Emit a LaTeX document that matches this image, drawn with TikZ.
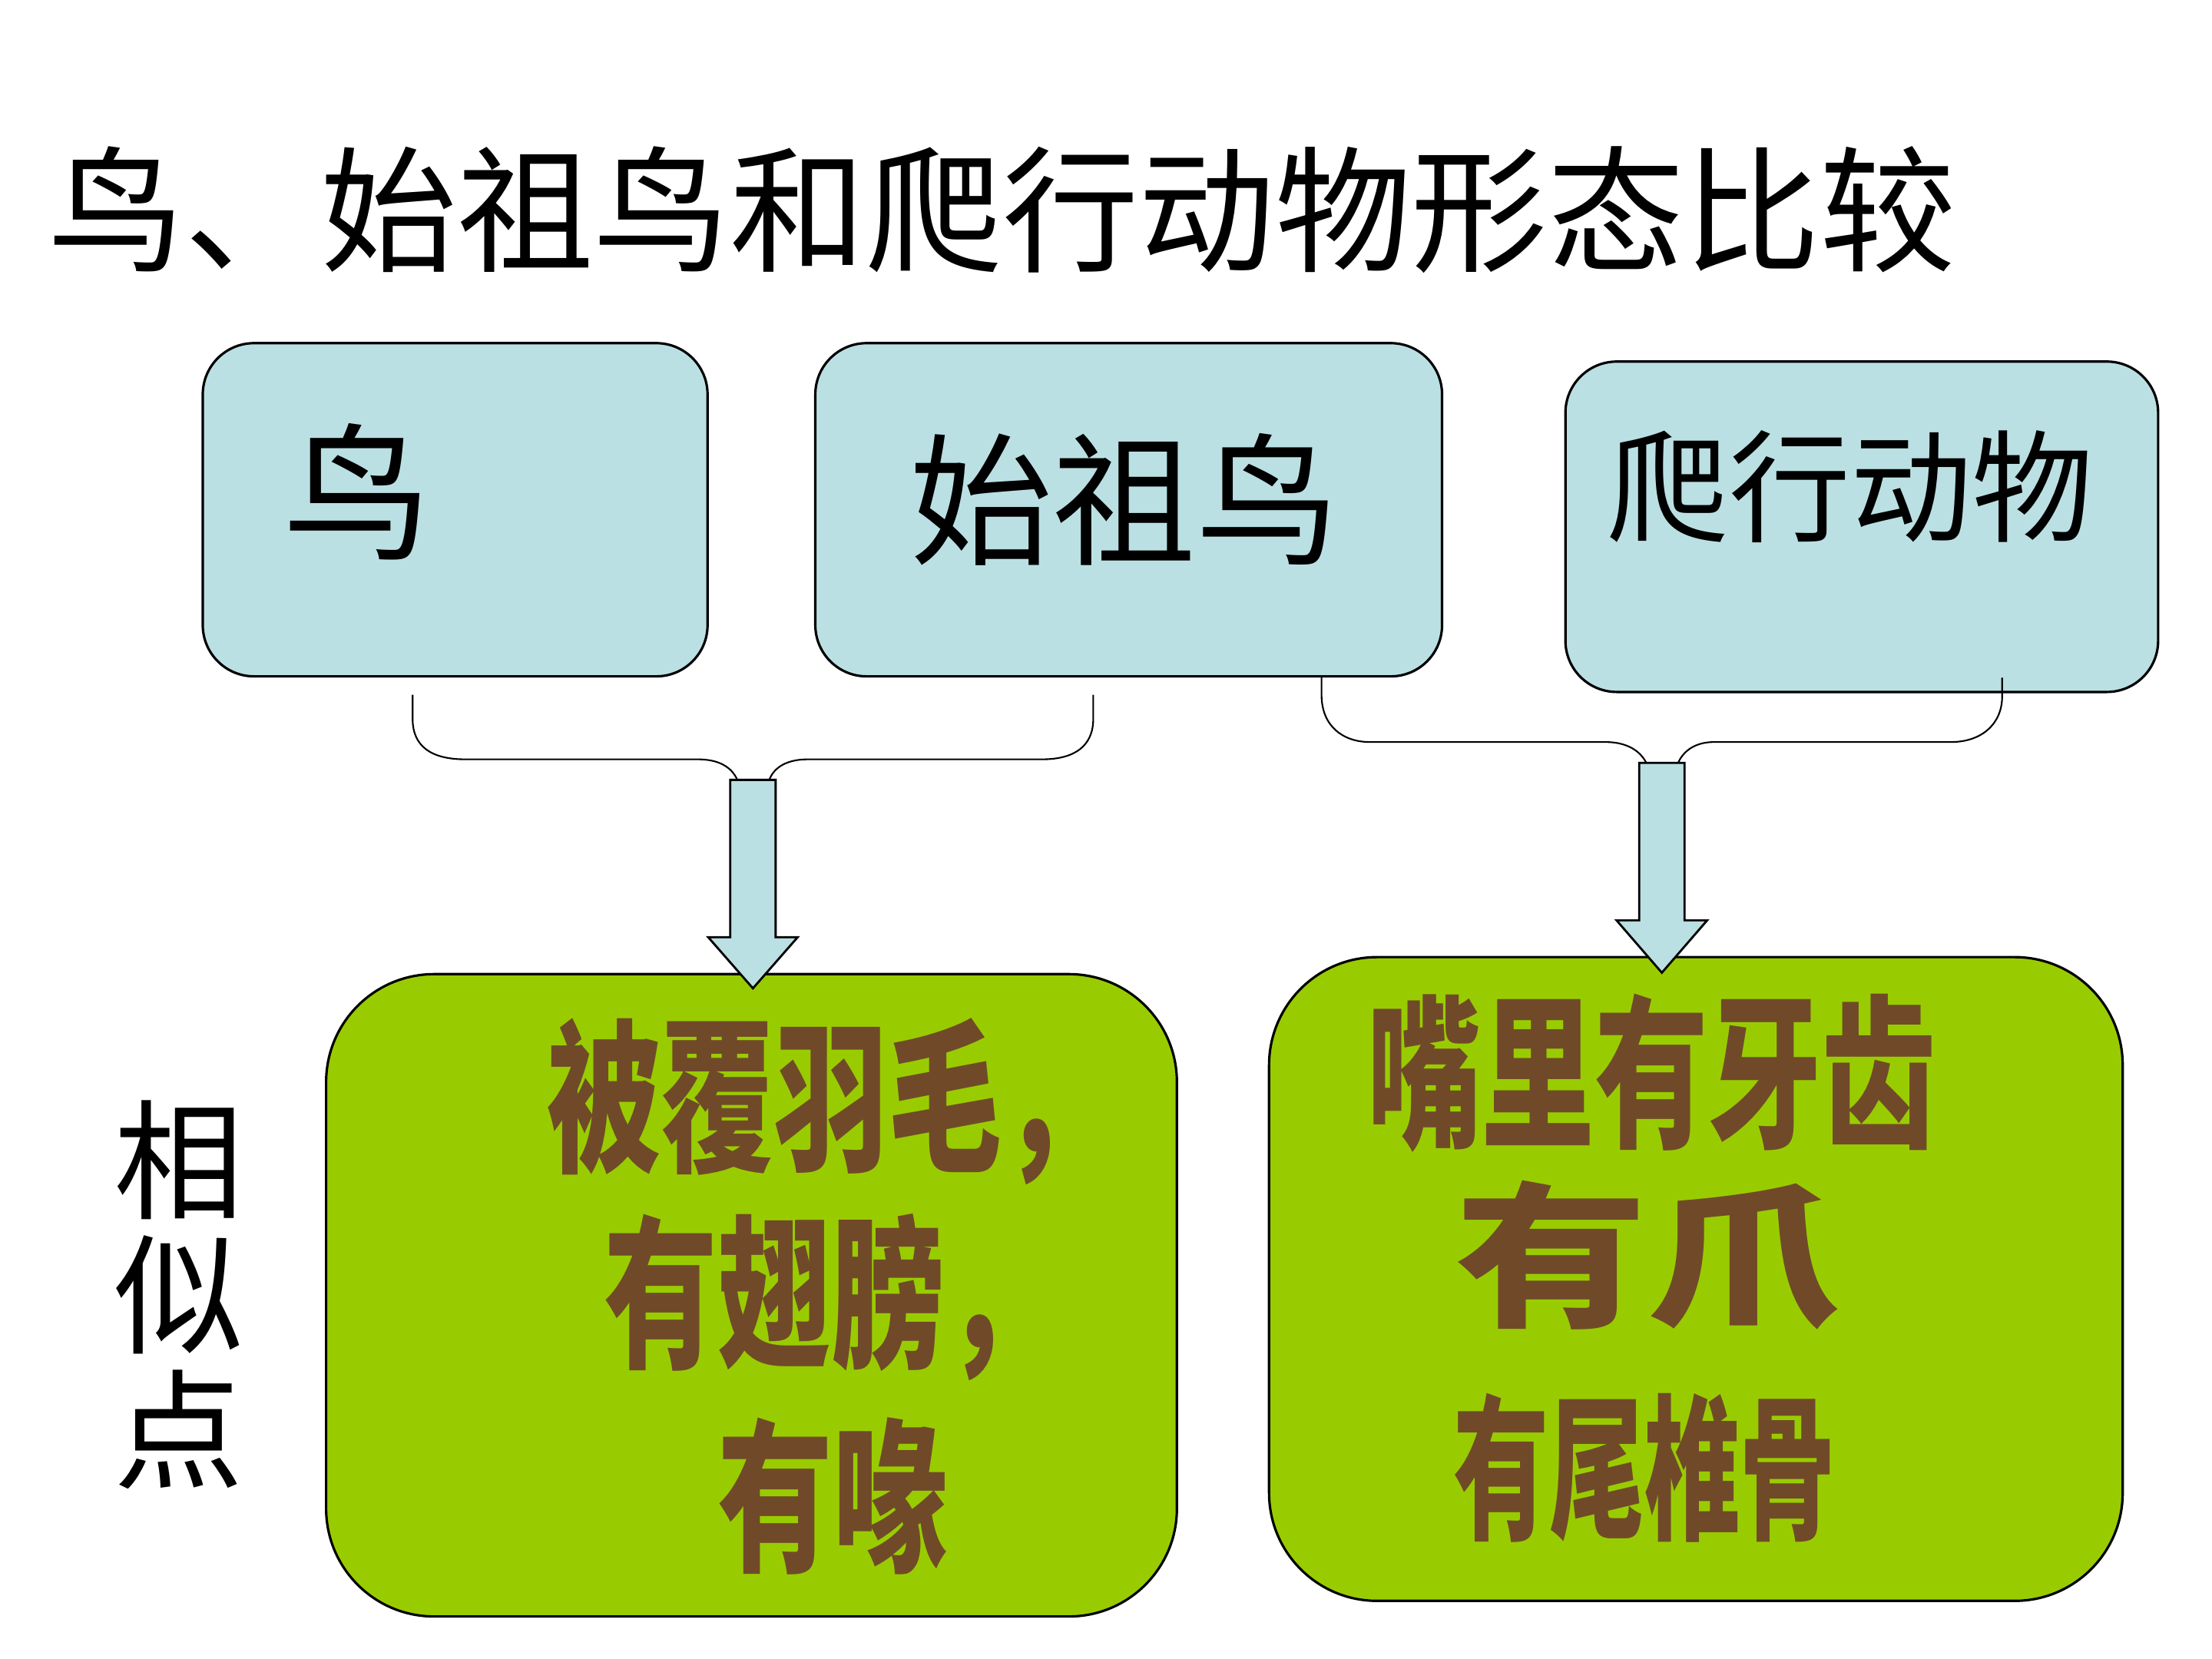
\documentclass[tikz,border=0pt]{standalone}
\usepackage{fontspec}
\usepackage{graphicx}
\newfontfamily\cjk{Noto Sans CJK SC}
\usetikzlibrary{fit}
\definecolor{boxblue}{HTML}{BBE0E3}
\definecolor{boxgreen}{HTML}{99CC00}
\definecolor{wordbrown}{HTML}{704A28}
\tikzset{
  bluebox/.style={draw=black, line width=0.9pt, fill=boxblue, rounded corners=19pt, inner sep=0pt},
  greenbox/.style={draw=black, line width=0.9pt, fill=boxgreen, rounded corners=40pt, inner sep=0pt},
  bracket/.style={draw=black, line width=0.6pt},
  blockarrow/.style={draw=black, line width=0.8pt, fill=boxblue, line join=miter},
  plain/.style={inner sep=0pt, outer sep=0pt, text=black, font=\cjk},
  word/.style={inner sep=0pt, outer sep=0pt, text=wordbrown, font=\cjk\bfseries},
}
\begin{document}
\begin{tikzpicture}[x=0.018462cm, y=-0.018462cm]
\useasboundingbox (0,0) rectangle (1560,1170);

% title
\node[plain, anchor=west] (title) at (34,148) {\fontsize{50.5}{60}\selectfont 鸟、始祖鸟和爬行动物形态比较};

% top boxes
\coordinate (b1a) at (143,242); \coordinate (b1b) at (499,477);
\coordinate (b2a) at (575,242); \coordinate (b2b) at (1017,477);
\coordinate (b3a) at (1104,255); \coordinate (b3b) at (1522,488);
\node[bluebox, fit=(b1a)(b1b)] (bird) {};
\node[bluebox, fit=(b2a)(b2b)] (archae) {};
\node[bluebox, fit=(b3a)(b3b)] (reptile) {};
\node[plain] (birdtxt) at (252,347) {\fontsize{55}{60}\selectfont 鸟};
\node[plain] (archaetxt) at (793,352) {\fontsize{53}{60}\selectfont 始祖鸟};
\node[plain] (reptiletxt) at (1305,343) {\fontsize{45}{54}\selectfont 爬行动物};

% bottom boxes
\coordinate (g1a) at (230,687); \coordinate (g1b) at (830,1140);
\coordinate (g2a) at (895,675); \coordinate (g2b) at (1497,1129);
\node[greenbox, fit=(g1a)(g1b)] (common1) {};
\node[greenbox, fit=(g2a)(g2b)] (common2) {};

% side label
\node[inner sep=0pt, outer sep=0pt, text=black, align=center,
      font=\cjk\fontsize{48}{50}\selectfont] (similar) at (126,913) {相\\似\\点};

% braces
\coordinate (br1l) at (291,490);
\coordinate (br1r) at (771,490);
\coordinate (a1top) at (531,550);
\coordinate (a1tip) at (531,697);
\draw[bracket] (br1l) -- (291,507) .. controls (291,527) and (305,535.5) .. (328,535.5)
  -- (492,535.5) .. controls (507,535.5) and (516,541) .. (520,550);
\draw[bracket] (542.5,550) .. controls (546,541) and (555,535.5) .. (570,535.5)
  -- (735,535.5) .. controls (758,535.5) and (771,526) .. (771,507) -- (br1r);

\coordinate (br2l) at (932,477);
\coordinate (br2r) at (1412,478);
\coordinate (a2top) at (1172,538);
\coordinate (a2tip) at (1172,686);
\draw[bracket] (br2l) -- (932,490) .. controls (932,512) and (947,523.3) .. (966,523.3)
  -- (1132,523.3) .. controls (1148,523.3) and (1157,530) .. (1161,538);
\draw[bracket] (1183.5,538) .. controls (1187,530) and (1195,523.3) .. (1209,523.3)
  -- (1376,523.3) .. controls (1397,523.3) and (1412,511) .. (1412,491) -- (br2r);

% block arrows
\draw[blockarrow] (a1top) ++(-16,0) -- ++(32,0) -- ++(0,111) -- ++(15.5,0) -- (a1tip)
  -- (499.5,661) -- ++(15.5,0) -- cycle;
\draw[blockarrow] (a2top) ++(-16,0) -- ++(32,0) -- ++(0,111) -- ++(16,0) -- (a2tip)
  -- (1140,649) -- ++(16,0) -- cycle;

% green box texts
\node[word, anchor=west] (c1a) at (386,777) {\scalebox{0.69}[1]{\fontsize{61}{61}\selectfont 被覆羽毛，}};
\node[word, anchor=west] (c1b) at (426,915) {\scalebox{0.69}[1]{\fontsize{61}{61}\selectfont 有翅膀，}};
\node[word, anchor=west] (c1c) at (506,1055) {\scalebox{0.7}[1]{\fontsize{61}{61}\selectfont 有喙}};
\node[word] (c2a) at (1165,757) {\scalebox{0.69}[1]{\fontsize{61}{61}\selectfont 嘴里有牙齿}};
\node[word] (c2b) at (1162,885) {\scalebox{1.23}[1]{\fontsize{58}{58}\selectfont 有爪}};
\node[word] (c2c) at (1160,1035) {\scalebox{0.61}[1]{\fontsize{58}{58}\selectfont 有尾椎骨}};
\end{tikzpicture}
\end{document}
